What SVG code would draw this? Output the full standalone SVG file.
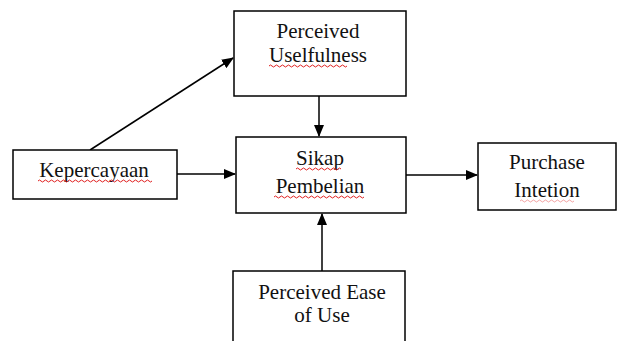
<svg xmlns="http://www.w3.org/2000/svg" width="618" height="341" viewBox="0 0 618 341">
<style>
.box{fill:#fff;stroke:#000;stroke-width:1.5}
.t{font-family:"Liberation Serif","Times New Roman",serif;font-size:21px;fill:#111;text-anchor:middle}
.c{stroke:#000;stroke-width:1.5;fill:none}
.sq{stroke:#e02020;stroke-width:1;fill:none}
</style>
<defs>
<marker id="ah" markerWidth="12" markerHeight="10" refX="11" refY="5" orient="auto" markerUnits="userSpaceOnUse">
<path d="M0,0 L12,5 L0,10 Z" fill="#000"/>
</marker>
</defs>
<rect width="618" height="341" fill="#fff"/>
<g id="connectors">
<line class="c" x1="90" y1="150" x2="233" y2="58" marker-end="url(#ah)"/>
<line class="c" x1="319" y1="96" x2="319" y2="136" marker-end="url(#ah)"/>
<line class="c" x1="177" y1="174" x2="235" y2="174" marker-end="url(#ah)"/>
<line class="c" x1="406" y1="175" x2="477" y2="175" marker-end="url(#ah)"/>
<line class="c" x1="322" y1="271" x2="322" y2="214" marker-end="url(#ah)"/>
</g>
<g id="node-usefulness">
<rect class="box" x="234" y="11" width="172" height="85"/>
<text class="t" x="318" y="38">Perceived</text>
<text class="t" x="318" y="62">Uselfulness</text>
<path class="sq" d="M269,66 q1.5,-2 3,0 t3,0 t3,0 t3,0 t3,0 t3,0 t3,0 t3,0 t3,0 t3,0 t3,0 t3,0 t3,0 t3,0 t3,0 t3,0 t3,0 t3,0 t3,0 t3,0 t3,0 t3,0 t3,0 t3,0 t3,0 t3,0"/>
</g>
<g id="node-kepercayaan">
<rect class="box" x="13" y="150" width="164" height="49"/>
<text class="t" x="94" y="177">Kepercayaan</text>
<path class="sq" d="M38,181 q1.5,-2 3,0 t3,0 t3,0 t3,0 t3,0 t3,0 t3,0 t3,0 t3,0 t3,0 t3,0 t3,0 t3,0 t3,0 t3,0 t3,0 t3,0 t3,0 t3,0 t3,0 t3,0 t3,0 t3,0 t3,0 t3,0 t3,0 t3,0 t3,0 t3,0 t3,0 t3,0 t3,0 t3,0 t3,0 t3,0 t3,0 t3,0 t3,0"/>
</g>
<g id="node-sikap">
<rect class="box" x="236" y="137" width="170" height="76"/>
<text class="t" x="320" y="165">Sikap</text>
<path class="sq" d="M296,169 q1.5,-2 3,0 t3,0 t3,0 t3,0 t3,0 t3,0 t3,0 t3,0 t3,0 t3,0 t3,0 t3,0 t3,0 t3,0 t3,0"/>
<text class="t" x="320" y="193">Pembelian</text>
<path class="sq" d="M274,197 q1.5,-2 3,0 t3,0 t3,0 t3,0 t3,0 t3,0 t3,0 t3,0 t3,0 t3,0 t3,0 t3,0 t3,0 t3,0 t3,0 t3,0 t3,0 t3,0 t3,0 t3,0 t3,0 t3,0 t3,0 t3,0 t3,0 t3,0 t3,0 t3,0 t3,0 t3,0"/>
</g>
<g id="node-purchase">
<rect class="box" x="478" y="143" width="138" height="67"/>
<text class="t" x="547" y="169">Purchase</text>
<text class="t" x="547" y="197">Intetion</text>
<path class="sq" d="M520,201 q1.5,-2 3,0 t3,0 t3,0 t3,0 t3,0 t3,0 t3,0 t3,0 t3,0 t3,0 t3,0 t3,0 t3,0 t3,0 t3,0 t3,0 t3,0 t3,0" opacity="0.4"/>
</g>
<g id="node-ease">
<rect class="box" x="233" y="271" width="172" height="80"/>
<text class="t" x="322" y="299">Perceived Ease</text>
<text class="t" x="322" y="322">of Use</text>
</g>
</svg>
